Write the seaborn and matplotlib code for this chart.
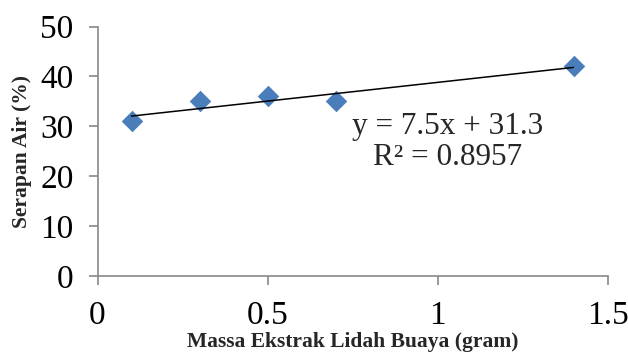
import numpy as np
import pandas as pd
import matplotlib
matplotlib.use("Agg")
import matplotlib.pyplot as plt
import seaborn as sns

# data
massa = [0.1, 0.3, 0.5, 0.7, 1.4]
serapan = [31, 35, 36, 35, 42]
x_ticks = [0, 0.5, 1, 1.5]
y_ticks = [0, 10, 20, 30, 40, 50]

df = pd.DataFrame({"massa": massa, "serapan": serapan})

sns.set_style("white")
plt.rcParams['font.family'] = ['Liberation Serif', 'DejaVu Serif']

fig = plt.figure(figsize=(6.28, 3.59), dpi=100)
ax = fig.add_axes([97.5/628, 1-276/359, (607.5-97.5)/628, (276-26.5)/359])

sns.regplot(data=df, x="massa", y="serapan", ax=ax, ci=None,
            marker="D",
            scatter_kws={"s": 120, "color": "#4A7EBB", "alpha": 1,
                         "linewidths": 0, "zorder": 2},
            line_kws={"color": "black", "linewidth": 1.1, "zorder": 3})

# trendline equation from a least squares fit
slope, icpt = np.polyfit(massa, serapan, 1)
pred = np.polyval([slope, icpt], massa)
r2 = 1 - np.sum((np.array(serapan) - pred)**2) / np.sum((np.array(serapan) - np.mean(serapan))**2)
ax.text(1.03, 26.9, "y = %.1fx + %.1f\nR² = %.4f" % (slope, icpt, r2),
        ha="center", va="center", fontsize=22.5, linespacing=1.08)

ax.set_xlim(0, 1.5)
ax.set_ylim(0, 50)
ax.set_xticks(x_ticks)
ax.set_xticklabels(["0", "0.5", "1", "1.5"])
ax.set_yticks(y_ticks)
ax.tick_params(axis="both", labelsize=24, colors="#888888", length=6.3, width=1.2,
               direction="out", labelcolor="black")
ax.tick_params(axis="x", pad=11)
ax.tick_params(axis="y", pad=11)
ax.xaxis.set_ticks_position("bottom")
ax.yaxis.set_ticks_position("left")

for s in ["top", "right"]:
    ax.spines[s].set_visible(False)
for s in ["left", "bottom"]:
    ax.spines[s].set_color("#888888")
    ax.spines[s].set_linewidth(1.2)

ax.set_xlabel("Massa Ekstrak Lidah Buaya (gram)", fontsize=15.5, fontweight="bold", labelpad=1)
ax.set_ylabel("Serapan Air (%)", fontsize=15.5, fontweight="bold", labelpad=6)

fig.savefig("out.png", dpi=100)
